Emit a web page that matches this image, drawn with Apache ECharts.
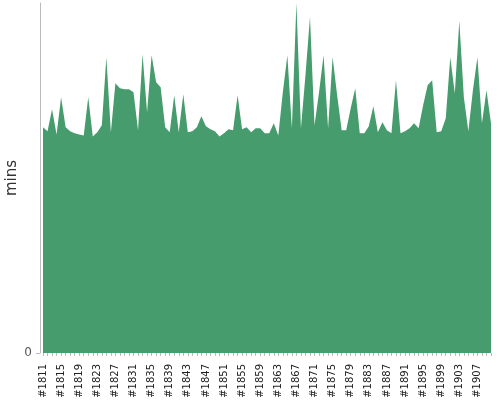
<!DOCTYPE html>
<html>
<head>
<meta charset="utf-8">
<script src="https://cdn.jsdelivr.net/npm/echarts@6/dist/echarts.min.js"></script>
<style>
  html, body { margin: 0; padding: 0; background: #fff; }
  #main { width: 500px; height: 400px; }
</style>
</head>
<body>
<div id="main"></div>
<script>
var chartDom = document.getElementById('main');
var myChart = echarts.init(chartDom);
var option;

// Build numbers #1811 .. #1910
const builds = [];
for (let b = 1811; b <= 1910; b++) {
  builds.push('#' + b);
}

// Duration of each build
const durations = [
  225, 221, 243, 218, 255, 225, 221, 219, 218, 217,
  255, 216, 220, 227, 295, 220, 269, 264, 263, 263,
  260, 222, 298, 240, 297, 270, 265, 225, 220, 257,
  220, 258, 220, 221, 225, 236, 226, 223, 221, 216,
  219, 223, 222, 257, 223, 225, 220, 224, 224, 219,
  219, 229, 217, 260, 297, 224, 349, 224, 277, 335,
  227, 260, 297, 224, 295, 257, 222, 222, 244, 264,
  219, 219, 226, 246, 220, 230, 222, 219, 272, 219,
  221, 224, 229, 224, 247, 267, 272, 220, 221, 234,
  295, 259, 331, 255, 221, 262, 295, 229, 262, 229
];

option = {
  animation: false,
  textStyle: { fontFamily: 'DejaVu Sans' },
  grid: {
    left: 43,
    right: 9,
    top: 3,
    bottom: 47,
    outerBoundsMode: 'none',
    containLabel: false
  },
  xAxis: {
    type: 'category',
    data: builds,
    boundaryGap: false,
    offset: 2,
    axisLine: { show: false },
    axisTick: {
      show: true,
      interval: 0,
      length: 3,
      lineStyle: { color: '#bbb' }
    },
    axisLabel: {
      interval: 3,
      rotate: 90,
      fontSize: 10,
      color: '#222',
      margin: 9
    },
    splitLine: { show: false }
  },
  yAxis: {
    type: 'value',
    name: 'mins',
    nameLocation: 'middle',
    nameGap: 20,
    nameMoveOverlap: false,
    nameTextStyle: { fontSize: 15, color: '#333' },
    min: 0,
    max: 'dataMax',
    offset: 3,
    axisLine: { show: true, lineStyle: { color: '#bbb' } },
    axisTick: {
      show: true,
      length: 4,
      lineStyle: { color: '#bbb' },
      customValues: [0]
    },
    axisLabel: {
      fontSize: 12,
      color: '#555',
      margin: 8,
      customValues: [0]
    },
    splitLine: { show: false }
  },
  series: [
    {
      name: 'duration',
      type: 'line',
      data: durations,
      showSymbol: false,
      lineStyle: { width: 0 },
      itemStyle: { color: '#469c6d' },
      areaStyle: { color: '#469c6d', opacity: 1 }
    }
  ]
};

option && myChart.setOption(option);
</script>
</body>
</html>
